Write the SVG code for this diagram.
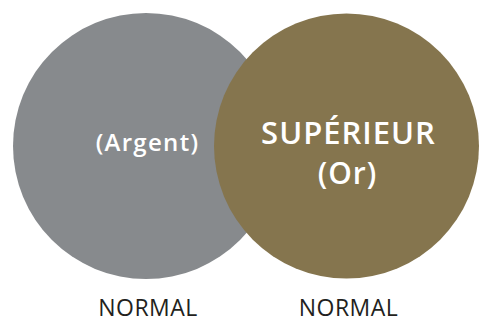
<svg xmlns="http://www.w3.org/2000/svg" width="480" height="320" viewBox="0 0 480 320">
<style>
.w{fill:#ffffff;font-family:"Open Sans","Noto Sans",sans-serif;font-weight:600;text-anchor:middle}
.n{fill:#231f20;font-family:"Open Sans","Noto Sans",sans-serif;font-size:23px;letter-spacing:0.5px;text-anchor:middle}
</style>
<rect width="480" height="320" fill="#ffffff"/>
<g id="argent">
<circle cx="146" cy="146" r="133" fill="#878a8d"/>
<text class="w" x="147.5" y="151" font-size="24" letter-spacing="1.3">(Argent)</text>
</g>
<g id="or">
<circle cx="346.5" cy="146" r="132.5" fill="#85754e"/>
<text class="w" x="348.5" y="143.5" font-size="31" letter-spacing="1">SUPÉRIEUR</text>
<text class="w" x="347.5" y="184" font-size="30" letter-spacing="1">(Or)</text>
</g>
<g id="labels">
<text class="n" x="148" y="316">NORMAL</text>
<text class="n" x="348.5" y="316">NORMAL</text>
</g>
<g id="connectors"/>
</svg>
